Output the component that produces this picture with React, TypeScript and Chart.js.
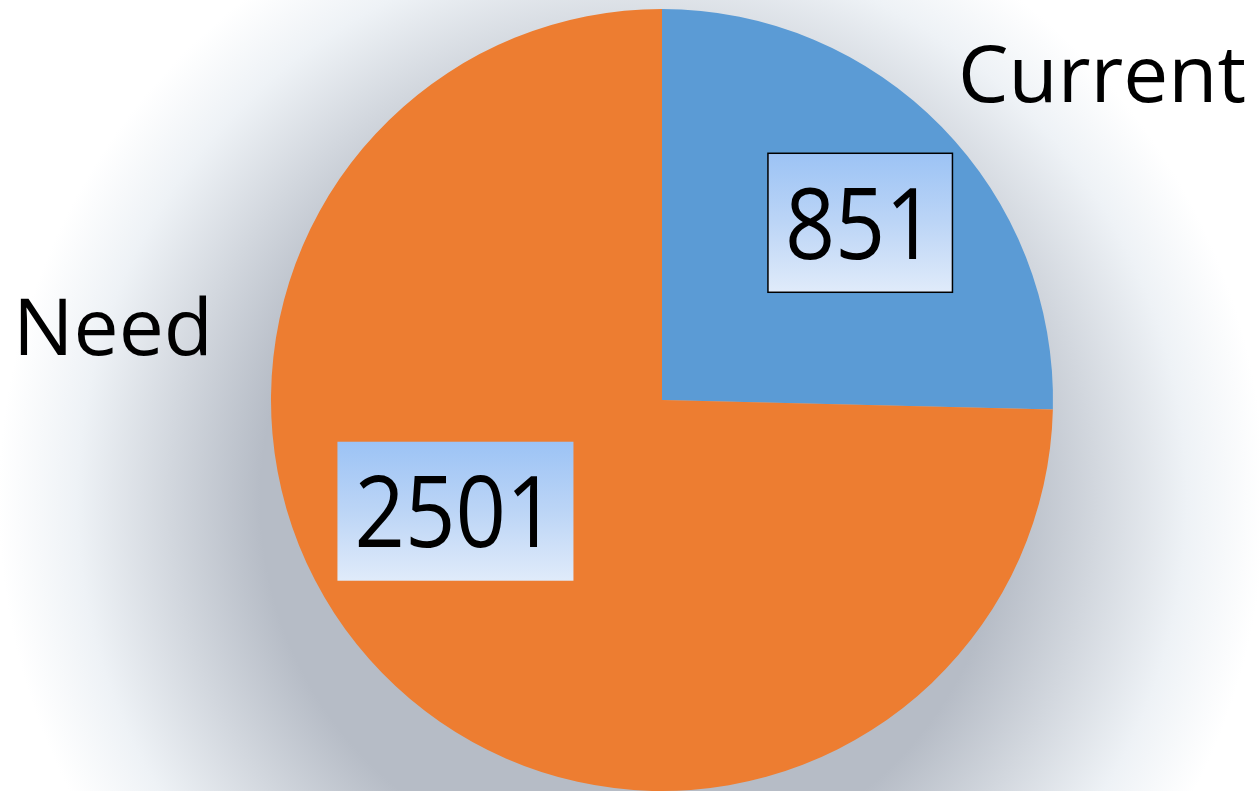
import React, { useEffect, useRef } from "react";
import { Chart, registerables } from "chart.js";

Chart.register(...registerables);

const categories = ["Current", "Need"];
const values = [851, 2501];
const colors = ["#5B9BD5", "#ED7D31"];
// label placement tweaks (angle offset in degrees, radius fraction)
const labelAngleOffset = [2.5, 16];
const labelRadiusFrac = [0.68, 0.6];

const FONT = '"Open Sans", "DejaVu Sans", sans-serif';

function drawFitted(ctx: CanvasRenderingContext2D, text: string, x: number, y: number, size: number, targetW: number, align: "left" | "center") {
  ctx.save();
  ctx.font = `${size}px ${FONT}`;
  const w = ctx.measureText(text).width;
  const sx = targetW / w;
  ctx.translate(x, y);
  ctx.scale(sx, 1);
  ctx.textBaseline = "alphabetic";
  ctx.textAlign = align;
  ctx.fillStyle = "#000";
  ctx.fillText(text, 0, 0);
  ctx.restore();
}

const bgPlugin = {
  id: "bgShadow",
  beforeDraw(chart: any) {
    const { ctx, width, height } = chart;
    const meta = chart.getDatasetMeta(0);
    const arc = meta.data[0];
    if (!arc) return;
    const cx = arc.x - 30;
    const cy = arc.y + 100;
    const r = arc.outerRadius;
    ctx.save();
    ctx.fillStyle = "#ffffff";
    ctx.fillRect(0, 0, width, height);
    const g = ctx.createRadialGradient(cx, cy, r * 0.95, cx, cy, r * 1.62);
    g.addColorStop(0, "rgb(182,188,198)");
    g.addColorStop(0.35, "rgb(210,215,222)");
    g.addColorStop(0.7, "rgb(238,242,246)");
    g.addColorStop(1, "rgb(255,255,255)");
    ctx.fillStyle = g;
    ctx.fillRect(0, 0, width, height);
    ctx.restore();
  },
};

const labelPlugin = {
  id: "labels",
  afterDraw(chart: any) {
    const { ctx } = chart;
    const meta = chart.getDatasetMeta(0);
    meta.data.forEach((arc: any, i: number) => {
      const mid = (arc.startAngle + arc.endAngle) / 2 + (labelAngleOffset[i] * Math.PI) / 180;
      const rr = arc.outerRadius * labelRadiusFrac[i];
      const x = arc.x + Math.cos(mid) * rr;
      const y = arc.y + Math.sin(mid) * rr;
      const text = String(values[i]);
      const digitW = 51.5;
      const tw = digitW * text.length;
      const bw = tw + 30;
      const bh = 139;
      const bx = x - bw / 2;
      const by = y - bh / 2;
      ctx.save();
      const g = ctx.createLinearGradient(0, by, 0, by + bh);
      g.addColorStop(0, "#9CC3F5");
      g.addColorStop(0.5, "#BCD5F6");
      g.addColorStop(1, "#E0EBFA");
      ctx.fillStyle = g;
      ctx.fillRect(bx, by, bw, bh);
      if (i === 0) {
        ctx.strokeStyle = "#000";
        ctx.lineWidth = 1.5;
        ctx.strokeRect(bx, by, bw, bh);
      }
      ctx.restore();
      drawFitted(ctx, text, x, y + 36, 98, tw - 4, "center");
    });
    // category labels
    drawFitted(ctx, categories[0], 958, 102, 78, 288, "left");
    drawFitted(ctx, categories[1], 13, 355, 78, 200, "left");
  },
};

export default function App() {
  const ref = useRef<HTMLCanvasElement | null>(null);
  useEffect(() => {
    if (!ref.current) return;
    const chart = new Chart(ref.current, {
      type: "pie",
      data: {
        labels: categories,
        datasets: [
          {
            data: values,
            backgroundColor: colors,
            borderWidth: 0,
          },
        ],
      },
      options: {
        responsive: false,
        animation: false,
        layout: { padding: { left: 271, right: 207, top: 9, bottom: 0 } },
        plugins: {
          legend: { display: false },
          tooltip: { enabled: false },
        },
      },
      plugins: [bgPlugin, labelPlugin],
    });
    return () => chart.destroy();
  }, []);
  return (
    <div style={{ position: "absolute", left: 0, top: 0, width: 1260, height: 791, background: "#fff" }}>
      <canvas ref={ref} width={1260} height={791} style={{ width: 1260, height: 791, display: "block" }} />
    </div>
  );
}
